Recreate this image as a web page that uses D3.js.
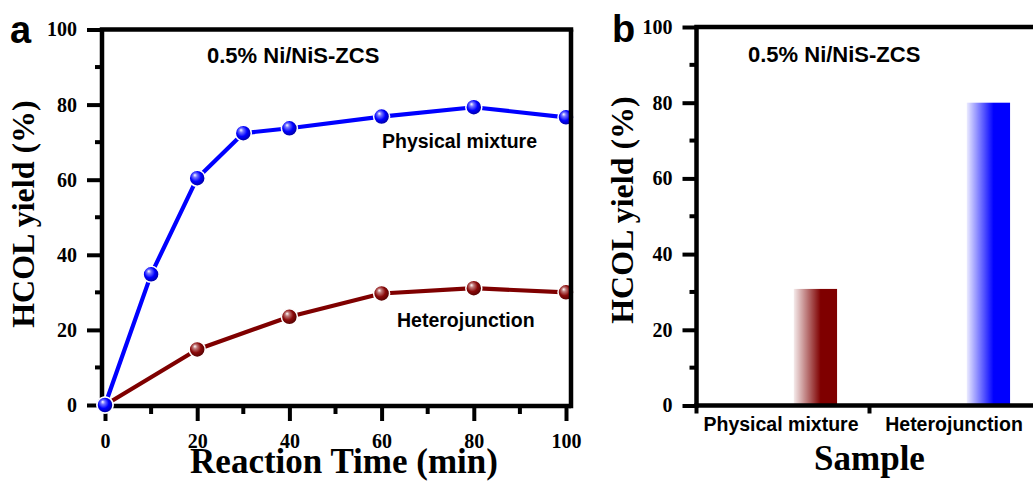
<!DOCTYPE html>
<html>
<head>
<meta charset="utf-8">
<script src="https://cdn.jsdelivr.net/npm/d3@7"></script>
<style>
  html, body { margin: 0; padding: 0; background: #fff; }
  svg { display: block; }
</style>
</head>
<body>
<svg id="chart" width="1033" height="482"></svg>
<script>
// ---- data ----
const sampleName = "0.5% Ni/NiS-ZCS";
const physicalTimes = [0, 10, 20, 30, 40, 60, 80, 100];
const physicalYield = [0, 34.8, 60.4, 72.4, 73.7, 76.8, 79.3, 76.6];
const heteroTimes = [0, 20, 40, 60, 80, 100];
const heteroYield = [0, 14.8, 23.5, 29.7, 31.1, 30.0];
const timeTicks = [0, 20, 40, 60, 80, 100];
const yieldTicks = [0, 20, 40, 60, 80, 100];
const barCategories = ["Physical mixture", "Heterojunction"];
const barValues = [30.8, 80];

// ---- styles ----
const BLUE = "#0000ff";
const MAROON = "#7f0000";
const serif = "'Liberation Serif', 'Times New Roman', serif";
const sans = "'Liberation Sans', Arial, sans-serif";
const AXW = 4.5;

const svg = d3.select("#chart");
const defs = svg.append("defs");

// sphere-like marker fills
function sphereGradient(id, base, dark) {
  const g = defs.append("radialGradient").attr("id", id)
    .attr("cx", "45%").attr("cy", "45%").attr("r", "60%")
    .attr("fx", "35%").attr("fy", "30%");
  g.append("stop").attr("offset", "0%").attr("stop-color", "#ffffff");
  g.append("stop").attr("offset", "22%").attr("stop-color", d3.interpolateRgb("#ffffff", base)(0.55));
  g.append("stop").attr("offset", "55%").attr("stop-color", base);
  g.append("stop").attr("offset", "100%").attr("stop-color", dark);
}
sphereGradient("sphereBlue", BLUE, "#00008a");
sphereGradient("sphereRed", "#8a0a0a", "#450000");

// horizontal fade for the bars
function barGradient(id, base) {
  const g = defs.append("linearGradient").attr("id", id)
    .attr("x1", "0%").attr("x2", "100%").attr("y1", "0%").attr("y2", "0%");
  g.append("stop").attr("offset", "0%").attr("stop-color", base).attr("stop-opacity", 0.08);
  g.append("stop").attr("offset", "62%").attr("stop-color", base).attr("stop-opacity", 1);
  g.append("stop").attr("offset", "100%").attr("stop-color", base).attr("stop-opacity", 1);
}
barGradient("barRed", MAROON);
barGradient("barBlue", BLUE);

function styleAxis(g, fontSize) {
  g.select(".domain").remove();
  g.selectAll(".tick line").attr("stroke", "#000").attr("stroke-width", 4);
  g.selectAll(".tick text")
    .attr("fill", "#000")
    .style("font-family", serif)
    .style("font-weight", "bold")
    .style("font-size", fontSize + "px");
}

// ================= panel a: yield vs time =================
(function () {
  const L = 102, T = 29.5, R = 571, B = 406;
  const x = d3.scaleLinear().domain([0, 100]).range([105, 566]);
  const y = d3.scaleLinear().domain([0, 100]).range([405, 29.5]);
  const g = svg.append("g");

  // minor ticks
  const minorY = d3.range(10, 100, 20);
  g.selectAll("line.minorY").data(minorY).join("line")
    .attr("x1", L - 7).attr("x2", L).attr("y1", d => y(d)).attr("y2", d => y(d))
    .attr("stroke", "#000").attr("stroke-width", 4);
  const minorX = d3.range(10, 100, 20);
  g.selectAll("line.minorX").data(minorX).join("line")
    .attr("x1", d => x(d)).attr("x2", d => x(d)).attr("y1", B).attr("y2", B + 8)
    .attr("stroke", "#000").attr("stroke-width", 4);

  const yAxis = g.append("g").attr("transform", `translate(${L},0)`)
    .call(d3.axisLeft(y).tickValues(yieldTicks).tickSize(15).tickPadding(10));
  styleAxis(yAxis, 20);
  const xAxis = g.append("g").attr("transform", `translate(0,${B})`)
    .call(d3.axisBottom(x).tickValues(timeTicks).tickSize(15).tickPadding(13));
  styleAxis(xAxis, 20);

  // left and bottom frame lines
  g.append("line").attr("x1", L).attr("x2", L).attr("y1", T).attr("y2", B + AXW / 2)
    .attr("stroke", "#000").attr("stroke-width", AXW);
  g.append("line").attr("x1", L - AXW / 2).attr("x2", R).attr("y1", B).attr("y2", B)
    .attr("stroke", "#000").attr("stroke-width", AXW);

  const line = d3.line().x(d => x(d[0])).y(d => y(d[1]));
  const series = [
    { t: heteroTimes, v: heteroYield, color: MAROON, fill: "url(#sphereRed)" },
    { t: physicalTimes, v: physicalYield, color: BLUE, fill: "url(#sphereBlue)" }
  ];
  series.forEach(s => {
    const pts = s.t.map((t, i) => [t, s.v[i]]);
    g.append("path").datum(pts).attr("d", line)
      .attr("fill", "none").attr("stroke", s.color).attr("stroke-width", 4.2)
      .attr("stroke-linejoin", "round");
  });
  series.forEach(s => {
    const pts = s.t.map((t, i) => [t, s.v[i]]);
    g.selectAll(null).data(pts).join("circle")
      .attr("cx", d => x(d[0])).attr("cy", d => y(d[1])).attr("r", 8)
      .attr("fill", s.fill).attr("stroke", "#fff").attr("stroke-width", 1.5);
  });

  // top and right frame lines drawn over the data
  g.append("line").attr("x1", L - AXW / 2).attr("x2", R + AXW / 2).attr("y1", T).attr("y2", T)
    .attr("stroke", "#000").attr("stroke-width", AXW);
  g.append("line").attr("x1", R).attr("x2", R).attr("y1", T).attr("y2", B + AXW / 2)
    .attr("stroke", "#000").attr("stroke-width", AXW);

  // texts
  g.append("text").attr("x", 207).attr("y", 62.5).text(sampleName)
    .style("font-family", sans).style("font-weight", "bold").style("font-size", "22px");
  g.append("text").attr("x", 382).attr("y", 148).text("Physical mixture")
    .style("font-family", sans).style("font-weight", "bold").style("font-size", "19.5px");
  g.append("text").attr("x", 397).attr("y", 327).text("Heterojunction")
    .style("font-family", sans).style("font-weight", "bold").style("font-size", "19.5px");
  g.append("text").attr("x", 344).attr("y", 473).attr("text-anchor", "middle")
    .text("Reaction Time (min)")
    .style("font-family", serif).style("font-weight", "bold").style("font-size", "35px");
  g.append("text").attr("transform", "translate(34,214) rotate(-90)").attr("text-anchor", "middle")
    .text("HCOL yield (%)")
    .style("font-family", serif).style("font-weight", "bold").style("font-size", "32px");
  g.append("text").attr("x", 10).attr("y", 43).text("a")
    .style("font-family", sans).style("font-weight", "bold").style("font-size", "38px");
})();

// ================= panel b: yield by sample =================
(function () {
  const L = 696.5, T = 27, B = 405.5;
  const x0 = d3.scaleBand().domain(barCategories).range([696.5, 1042.5]).padding(0);
  const y = d3.scaleLinear().domain([0, 100]).range([405.5, 27]);
  const g = svg.append("g");
  const R = x0.range()[1];

  const minorY = d3.range(10, 100, 20);
  g.selectAll("line.minorY").data(minorY).join("line")
    .attr("x1", L - 7).attr("x2", L).attr("y1", d => y(d)).attr("y2", d => y(d))
    .attr("stroke", "#000").attr("stroke-width", 4);

  const yAxis = g.append("g").attr("transform", `translate(${L},0)`)
    .call(d3.axisLeft(y).tickValues(yieldTicks).tickSize(14).tickPadding(10));
  styleAxis(yAxis, 20);

  // category axis: labels at band centres, ticks at band edges
  const xAxis = g.append("g").attr("transform", `translate(0,${B})`)
    .call(d3.axisBottom(x0).tickSize(0).tickPadding(12));
  xAxis.select(".domain").remove();
  xAxis.selectAll(".tick text").attr("fill", "#000")
    .attr("transform", "translate(-2,0)")
    .style("font-family", sans).style("font-weight", "bold").style("font-size", "19.5px");
  const edges = barCategories.map(c => x0(c)).concat([R]);
  g.selectAll("line.edge").data(edges).join("line")
    .attr("x1", d => d).attr("x2", d => d).attr("y1", B).attr("y2", B + 8)
    .attr("stroke", "#000").attr("stroke-width", 4);

  // bars sit in the right half of each category slot
  const bw = x0.bandwidth();
  const fills = ["url(#barRed)", "url(#barBlue)"];
  g.selectAll("rect.bar").data(barCategories).join("rect")
    .attr("x", c => x0(c) + bw * 0.5625)
    .attr("width", bw * 0.25)
    .attr("y", (c, i) => y(barValues[i]))
    .attr("height", (c, i) => y(0) - y(barValues[i]))
    .attr("fill", (c, i) => fills[i]);

  g.append("line").attr("x1", L).attr("x2", L).attr("y1", T).attr("y2", B + AXW / 2)
    .attr("stroke", "#000").attr("stroke-width", AXW);
  g.append("line").attr("x1", L - AXW / 2).attr("x2", R).attr("y1", B).attr("y2", B)
    .attr("stroke", "#000").attr("stroke-width", AXW);
  g.append("line").attr("x1", L - AXW / 2).attr("x2", R).attr("y1", T).attr("y2", T)
    .attr("stroke", "#000").attr("stroke-width", AXW);

  g.append("text").attr("x", 748).attr("y", 61.7).text(sampleName)
    .style("font-family", sans).style("font-weight", "bold").style("font-size", "22px");
  g.append("text").attr("x", 869.5).attr("y", 470).attr("text-anchor", "middle")
    .text("Sample")
    .style("font-family", serif).style("font-weight", "bold").style("font-size", "35px");
  g.append("text").attr("transform", "translate(633,210) rotate(-90)").attr("text-anchor", "middle")
    .text("HCOL yield (%)")
    .style("font-family", serif).style("font-weight", "bold").style("font-size", "32px");
  g.append("text").attr("x", 612).attr("y", 42).text("b")
    .style("font-family", sans).style("font-weight", "bold").style("font-size", "38px");
})();
</script>
</body>
</html>
